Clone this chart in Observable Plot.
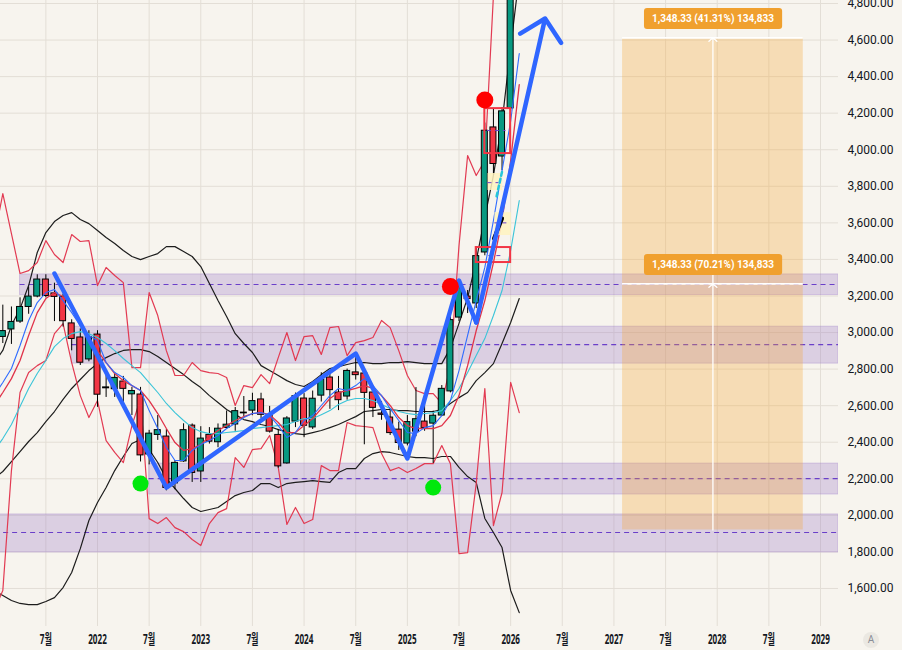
<!DOCTYPE html>
<html><head><meta charset="utf-8">
<script src="https://cdn.jsdelivr.net/npm/d3@7"></script>
<script src="https://cdn.jsdelivr.net/npm/@observablehq/plot@0.6"></script>
<style>
html,body{margin:0;padding:0;background:#f7f4ee;}
#chart{position:relative;width:902px;height:650px;overflow:hidden;}
#chart svg{display:block;background:#f7f4ee;}
g[aria-label="y-axis tick label"] text{font-family:Roboto,sans-serif;font-size:12px;fill:#131722;}
g[aria-label="x-axis tick label"] text{font-family:"Noto Sans","Noto Sans CJK KR",sans-serif;font-size:13.5px;font-weight:700;fill:#131722;}
#autoBtn{position:absolute;left:863px;top:632px;width:16px;height:16px;border-radius:8px;background:#ebe8e2;color:#8a8d96;font:10px Roboto,sans-serif;text-align:center;line-height:16px;}
</style></head>
<body><div id="chart"><div id="autoBtn">A</div></div>
<script>
// ---------- candles (monthly) ----------
const months = ["2021-02","2021-03","2021-04","2021-05","2021-06","2021-07","2021-08","2021-09","2021-10","2021-11","2021-12",
"2022-01","2022-02","2022-03","2022-04","2022-05","2022-06","2022-07","2022-08","2022-09","2022-10","2022-11","2022-12",
"2023-01","2023-02","2023-03","2023-04","2023-05","2023-06","2023-07","2023-08","2023-09","2023-10","2023-11","2023-12",
"2024-01","2024-02","2024-03","2024-04","2024-05","2024-06","2024-07","2024-08","2024-09","2024-10","2024-11","2024-12",
"2025-01","2025-02","2025-03","2025-04","2025-05","2025-06","2025-07","2025-08","2025-09","2025-10","2025-11","2025-12","2026-01"];
const open  = [2976,3017,3060,3140,3197,3290,3214,3195,3050,2973,2853, 2989,2695,2690,2732,2662,2661,2333,2440,2431,2175,2295,2491, 2240,2440,2400,2478,2497,2562,2573,2634,2546,2440,2284,2513, 2639,2481,2655,2754,2672,2650,2782,2776,2672,2557,2535,2469, 2393,2458,2513,2502,2546,2678,3082,3197,3159,3438,4122,3963,4226];
const high  = [3150,3140,3190,3249,3316,3316,3270,3210,3070,3020,3010, 3010,2790,2782,2760,2700,2700,2465,2546,2470,2300,2501,2500, 2485,2480,2500,2571,2590,2650,2668,2668,2596,2470,2540,2669, 2666,2680,2780,2780,2760,2800,2891,2803,2690,2623,2584,2510, 2546,2699,2645,2570,2710,3115,3290,3230,3470,4146,4226,4231,5080];
const low   = [2940,2935,3050,3100,3190,3190,3060,3030,2900,2820,2840, 2591,2645,2645,2615,2546,2292,2276,2410,2134,2140,2290,2180, 2180,2390,2370,2470,2460,2540,2545,2530,2450,2258,2280,2480, 2425,2470,2620,2580,2573,2630,2740,2386,2535,2520,2437,2355, 2380,2430,2460,2284,2540,2670,3060,3104,3131,3420,3860,3886,4210];
const close = [3008,3058,3140,3197,3290,3200,3195,3062,2965,2835,2975, 2660,2700,2752,2692,2680,2328,2447,2466,2150,2287,2466,2232, 2420,2403,2474,2496,2570,2558,2625,2550,2458,2268,2530,2652, 2490,2638,2742,2685,2630,2790,2767,2670,2588,2550,2450,2396, 2510,2526,2478,2545,2692,3068,3243,3183,3418,4104,3922,4210,4990];

// ---------- indicators (one value per month, 2021-01 .. 2026-02) ----------
const indMonths = ["2021-01","2021-02","2021-03","2021-04","2021-05","2021-06","2021-07","2021-08","2021-09","2021-10","2021-11","2021-12",
"2022-01","2022-02","2022-03","2022-04","2022-05","2022-06","2022-07","2022-08","2022-09","2022-10","2022-11","2022-12",
"2023-01","2023-02","2023-03","2023-04","2023-05","2023-06","2023-07","2023-08","2023-09","2023-10","2023-11","2023-12",
"2024-01","2024-02","2024-03","2024-04","2024-05","2024-06","2024-07","2024-08","2024-09","2024-10","2024-11","2024-12",
"2025-01","2025-02","2025-03","2025-04","2025-05","2025-06","2025-07","2025-08","2025-09","2025-10","2025-11","2025-12","2026-01","2026-02"];
const bbUpper = [2836,2902,3038,3131,3257,3438,3547,3607,3640,3656,3618,3596, 3558,3520,3487,3449,3416,3399,3416,3432,3470,3470,3443,3416, 3361,3268,3175,3088,2994,2940,2891,2819,2792,2765,2737,2716, 2705,2732,2770,2803,2814,2825,2836,2836,2830,2830,2836,2836, 2841,2836,2830,2830,2830,2915,3050,3190,3394,3630,3860,4150,4560,4950];
const bbMid   = [2201,2240,2294,2349,2404,2453,2513,2568,2634,2694,2743,2792, 2830,2863,2885,2902,2907,2907,2896,2869,2836,2803,2770,2732, 2699,2655,2617,2579,2551,2524,2513,2497,2486,2469,2458,2447, 2442,2453,2464,2480,2497,2519,2540,2568,2573,2579,2579,2573, 2573,2568,2568,2568,2579,2612,2644,2672,2737,2781,2830,2940,3055,3186];
const bbLower = [1589,1561,1534,1518,1512,1512,1529,1550,1605,1687,1818,1972, 2070,2152,2245,2322,2393,2415,2360,2289,2201,2147,2092,2043, 2021,2032,2043,2076,2108,2125,2136,2174,2174,2152,2174,2180, 2185,2190,2185,2180,2234,2256,2256,2311,2338,2349,2344,2333, 2322,2316,2316,2311,2322,2322,2262,2212,2180,1983,1906,1824,1589,1468];
const cyanMA  = [2355,2420,2497,2595,2694,2776,2847,2923,2967,2994,3005,2994, 2973,2940,2901,2858,2819,2781,2726,2672,2612,2562,2519,2480, 2458,2447,2447,2453,2458,2464,2475,2480,2486,2491,2497,2513, 2530,2530,2551,2573,2606,2628,2639,2639,2628,2606,2584,2568, 2557,2551,2557,2562,2573,2628,2694,2781,2874,2967,3093,3230,3448,3722];
const blueMA  = [2655,2727,2803,2929,3066,3164,3219,3235,3175,3109,3038,2984, 2956,2836,2781,2754,2710,2683,2573,2475,2371,2300,2300,2355, 2387,2409,2437,2475,2502,2535,2557,2562,2546,2491,2426,2453, 2519,2546,2601,2655,2694,2683,2710,2748,2710,2655,2584,2519, 2453,2447,2480,2491,2546,2628,2792,2984,3175,3356,3613,3886,4156,4526];
const redMA   = [2601,2672,2748,2847,2984,3109,3186,3219,3197,3148,3049,2967, 2901,2836,2776,2737,2710,2683,2628,2557,2475,2398,2355,2365, 2387,2431,2464,2491,2519,2540,2557,2562,2551,2508,2453,2453, 2491,2530,2584,2639,2672,2683,2694,2710,2694,2655,2601,2535, 2491,2475,2475,2475,2491,2546,2655,2819,3011,3175,3383,3613,3941,4356];
const envUpper= [3520,3760,3541,3323,3339,3383,3503,3427,3383,3536,3498,3503, 3257,3356,3312,3273,2808,2808,3219,3093,2901,2765,2765,2836, 2792,2781,2776,2754,2601,2710,2699,2770,2721,2863,3000,2847, 2978,2983,2880,3027,3033,2874,2945,2956,2973,3066,3027,2901, 2765,2683,2666,2666,2612,2819,3476,3968,3859,3941,4843,5090,5150,5900];
const envLower= [1479,1589,2245,2672,2781,2819,2847,2994,3049,2836,2655,2535, 2628,2409,2344,2289,2491,2639,1982,1955,1988,1933,1911,1868, 1835,1955,2015,2037,2316,2262,2360,2365,2437,2262,1950,2043, 1955,1977,2272,2245,2245,2508,2491,2486,2480,2338,2245,2262, 2234,2256,2283,2283,2382,2283,1791,1796,2174,2694,1944,2125,2727,2562];

// ---------- drawings ----------
const bandStart = ["2021-04","2021-10","2022-07","2020-12"];
const bandLo    = [3205, 2830, 2114, 1797];
const bandHi    = [3318, 3032, 2283, 2005];
const bandMid   = [3263, 2934, 2201, 1906];

const waveMonths = ["2021-08","2022-09","2024-07","2025-01","2025-07","2025-09","2026-05"];
const waveValues = [3323, 2152, 2885, 2311, 3284, 3055, 4718];

const rangeStart = "2027-02", rangeEnd = "2028-11";
const rangeLevels = [1920, 3266, 4612];
const rangeLabels = ["1,348.33 (70.21%) 134,833", "1,348.33 (41.31%) 134,833"];

const redDotMonths = ["2025-06","2025-10"], redDotValues = [3252, 4272];
const greenDotMonths = ["2022-06","2025-04"], greenDotValues = [2174, 2152];

const boxStart = ["2025-10","2025-09"], boxEnd = ["2026-01","2026-01"], boxLo = [3979, 3383], boxHi = [4225, 3465];
const noteStart = ["2025-10-12","2025-11-06"], noteEnd = ["2025-12-03","2026-01-03"], noteLo = [3777, 3531], noteHi = [3870, 3656];
const noteDashStart = ["2025-10-10","2025-10-15","2025-10-12","2025-11-06"];
const noteDashEnd   = ["2025-12-15","2025-12-01","2025-11-20","2025-12-20"];
const noteDashValue = [4105, 3421, 3820, 3600];
const penMonths = ["2025-11-03","2025-12-01"], penValues = [3514, 3624];
const cyanPenMonths = ["2025-11-12","2025-12-01"], cyanPenValues = [3745, 3880];

const xTicks = [-6,0,6,12,18,24,30,36,42,48,54,60,66,72,78,84];
const xTickLabels = ["7월","2022","7월","2023","7월","2024","7월","2025","7월","2026","7월","2027","7월","2028","7월","2029"];
const yTicks = d3.range(1600, 4801, 200);

// ---------- helpers ----------
const T = s => { const p = s.split("-").map(Number); return (p[0]-2022)*12 + (p[1]-1) + (p[2] ? (p[2]-1)/30 : 0); };
const xDomain = [-11.27, 86.09];
const yDomain = [1392, 4816.4];
const xEnd = () => xDomain[1];

const candles = months.map((m,i)=>({t:T(m), o:open[i], h:high[i], l:low[i], c:close[i]}));
const series = arr => indMonths.map((m,i)=>({t:T(m), v:arr[i]}));
const bands = bandStart.map((s,i)=>({t:T(s), lo:bandLo[i], hi:bandHi[i], mid:bandMid[i]}));
const wave = waveMonths.map((m,i)=>({t:T(m), v:waveValues[i]}));
const waveHead = [{t1:wave[5].t, v1:wave[5].v, t2:wave[6].t, v2:wave[6].v}];
const rs = T(rangeStart), re = T(rangeEnd), rc = (rs+re)/2;
const rangeArrows = [{v1:rangeLevels[0], v2:rangeLevels[1]}, {v1:rangeLevels[1], v2:rangeLevels[2]}];
const rangeText = rangeLabels.map((l,i)=>({v:rangeLevels[i+1], label:l}));
const redDots = redDotMonths.map((m,i)=>({t:T(m), v:redDotValues[i]}));
const greenDots = greenDotMonths.map((m,i)=>({t:T(m), v:greenDotValues[i]}));
const boxes = boxStart.map((s,i)=>({t1:T(s), t2:T(boxEnd[i]), lo:boxLo[i], hi:boxHi[i]}));
const notes = noteStart.map((s,i)=>({t1:T(s), t2:T(noteEnd[i]), lo:noteLo[i], hi:noteHi[i]}));
const noteDashes = noteDashStart.map((s,i)=>({t1:T(s), t2:T(noteDashEnd[i]), v:noteDashValue[i]}));
const pen = penMonths.map((m,i)=>({t:T(m), v:penValues[i]}));
const cyanPen = cyanPenMonths.map((m,i)=>({t:T(m), v:cyanPenValues[i]}));

const GREEN = "#089981", RED = "#f23645";
const lineOpt = (stroke, w) => ({x:"t", y:"v", stroke, strokeWidth:w, clip:true, curve:"linear"});

const plot = Plot.plot({
  width: 902, height: 650,
  marginTop: 0, marginBottom: 24, marginLeft: 0, marginRight: 64,
  x: {type:"linear", domain: xDomain},
  y: {type:"linear", domain: yDomain},
  style: {background:"#f7f4ee", overflow:"visible"},
  marks: [
    Plot.gridY(yTicks, {stroke:"#e3ded6", strokeOpacity:1, strokeWidth:1}),
    Plot.gridX(xTicks, {stroke:"#e3ded6", strokeOpacity:1, strokeWidth:1}),
    // horizontal zones
    Plot.rect(bands, {x1:"t", x2:xEnd, y1:"lo", y2:"hi", fill:"#9c7ac8", fillOpacity:0.3, stroke:"#9c7ac8", strokeOpacity:0.35, strokeWidth:1, clip:true}),
    Plot.ruleY(bands, {y:"mid", x1:"t", x2:xEnd, stroke:"#6a3fc9", strokeWidth:1.1, strokeDasharray:"5,4", clip:true}),
    // price range projection
    Plot.rect([{}], {x1:()=>rs, x2:()=>re, y1:()=>rangeLevels[0], y2:()=>rangeLevels[2], fill:"#f5a431", fillOpacity:0.3}),
    Plot.ruleY(rangeLevels.slice(1), {x1:()=>rs, x2:()=>re, stroke:"#ffffff", strokeWidth:1.6}),
    Plot.arrow(rangeArrows, {x1:()=>rc, x2:()=>rc, y1:"v1", y2:"v2", stroke:"#ffffff", strokeWidth:1.3, headLength:6, headAngle:100}),
    // bollinger (black)
    Plot.line(series(bbUpper), lineOpt("#1c1c1c", 1.2)),
    Plot.line(series(bbMid), lineOpt("#1c1c1c", 1.2)),
    Plot.line(series(bbLower), lineOpt("#1c1c1c", 1.2)),
    // short envelope (red jagged)
    Plot.line(series(envUpper), lineOpt("#e23a52", 1.2)),
    Plot.line(series(envLower), lineOpt("#e23a52", 1.2)),
    // candles
    Plot.ruleX(candles, {x:"t", y1:"l", y2:"h", stroke:"#000", strokeWidth:1, clip:true}),
    Plot.rect(candles, {x1:d=>d.t-0.35, x2:d=>d.t+0.35, y1:"o", y2:"c", fill:d=>d.c>=d.o?GREEN:RED, stroke:"#000", strokeWidth:1, clip:true}),
    // moving averages
    Plot.line(series(cyanMA), lineOpt("#3ac4d8", 1.1)),
    Plot.line(series(redMA), lineOpt("#e0334a", 1.3)),
    Plot.line(series(blueMA), lineOpt("#2e6bff", 1.1)),
    // small annotations near last candles
    Plot.rect(notes, {x1:"t1", x2:"t2", y1:"lo", y2:"hi", fill:"#fff3bf", fillOpacity:0.85}),
    Plot.rect(boxes, {x1:"t1", x2:"t2", y1:"lo", y2:"hi", fill:"none", stroke:RED, strokeWidth:2}),
    Plot.ruleY(noteDashes, {y:"v", x1:"t1", x2:"t2", stroke:"#6a3fc9", strokeWidth:1, strokeDasharray:"4,4"}),
    Plot.line(pen, {x:"t", y:"v", stroke:"#000", strokeWidth:4, strokeLinecap:"round"}),
    Plot.line(cyanPen, {x:"t", y:"v", stroke:"#26c6da", strokeWidth:2.5, strokeDasharray:"4,3"}),
    // wave drawing
    Plot.line(wave.slice(0,6), {x:"t", y:"v", stroke:"#2f66ff", strokeWidth:4.5, strokeLinejoin:"round", strokeLinecap:"round", clip:true}),
    Plot.arrow(waveHead, {x1:"t1", y1:"v1", x2:"t2", y2:"v2", stroke:"#2f66ff", strokeWidth:4.5, headLength:9.7, headAngle:92, strokeLinecap:"round", strokeLinejoin:"round"}),
    // markers
    Plot.dot(redDots, {x:"t", y:"v", r:8.5, fill:"#ff0000"}),
    Plot.dot(greenDots, {x:"t", y:"v", r:8, fill:"#00e80c"}),
    // range labels
    Plot.text(rangeText, {x:()=>rc, y:"v", text:"label", dy:-19.5, fill:"#ffffff", fontSize:10, fontWeight:700, fontFamily:"Roboto, sans-serif"}),
    // axes
    Plot.axisY(yTicks, {anchor:"right", tickSize:0, tickPadding:9, tickFormat:d3.format(",.2f")}),
    Plot.axisX(xTicks, {anchor:"bottom", tickSize:0, tickPadding:8, tickFormat:t=>xTickLabels[xTicks.indexOf(t)]})
  ]
});
document.getElementById("chart").prepend(plot);

// condensed x labels
d3.select(plot).selectAll('g[aria-label="x-axis tick label"] text').each(function(){
  const tr = this.getAttribute("transform") || "";
  this.setAttribute("transform", tr + " scale(0.6,1)");
});
// orange label boxes behind range texts
d3.select(plot).selectAll('g[aria-label="text"] text').each(function(){
  const bb = this.getBBox();
  const w = bb.width > 0 ? bb.width : 118;
  const h = bb.height > 0 ? bb.height : 12;
  const x0 = bb.width > 0 ? bb.x : -59;
  const y0 = bb.height > 0 ? bb.y : -6;
  const r = document.createElementNS("http://www.w3.org/2000/svg","rect");
  const tr = this.getAttribute("transform");
  if (tr) r.setAttribute("transform", tr);
  r.setAttribute("x", x0 - 8); r.setAttribute("y", y0 - 4.5);
  r.setAttribute("width", w + 16); r.setAttribute("height", h + 9);
  r.setAttribute("rx", 3); r.setAttribute("fill", "#f0a02e");
  this.parentNode.insertBefore(r, this);
});
</script>
</body></html>
